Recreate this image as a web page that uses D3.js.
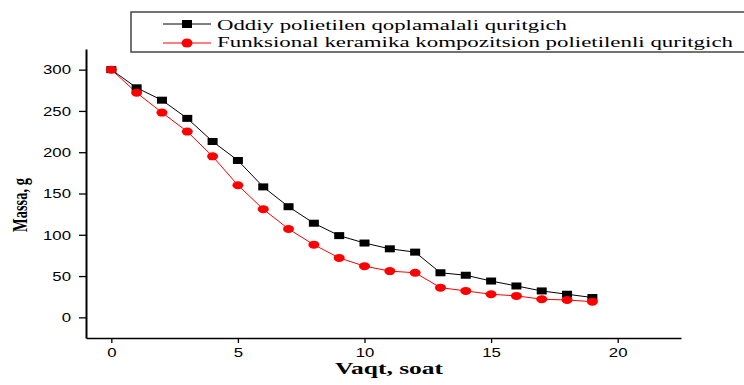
<!DOCTYPE html>
<html><head><meta charset="utf-8">
<script src="https://cdn.jsdelivr.net/npm/d3@7"></script>
<style>body{margin:0;background:#fff}svg{display:block}</style>
</head><body>
<script>
const hours = [0,1,2,3,4,5,6,7,8,9,10,11,12,13,14,15,16,17,18,19];
const plainValues = [300,278,263,241,213,190,158,134,114,99,90,83,79,54,51,44,38,32,28,24];
const ceramicValues = [300,272,248,225,195,160,131,107,88,72,62,56,54,36,32,28,26,22,21,19];
const seriesNames = ["Oddiy polietilen qoplamalali quritgich","Funksional keramika kompozitsion polietilenli quritgich"];
const xTicks = [0,5,10,15,20];
const xMinor = [2.5,7.5,12.5,17.5,22.5];
const yTicks = [0,50,100,150,200,250,300];
const yMinor = [-25,25,75,125,175,225,275,325];
const xTitle = "Vaqt, soat";
const yTitle = "Massa, g";

const W=744,H=385, SX=1.4;
const svg = d3.select("body").append("svg").attr("width",W).attr("height",H);
const x = d3.scaleLinear().domain([-1,22.5]).range([86,681]);
const y = d3.scaleLinear().domain([-25,325]).range([338,49]);

// axes
const gx = svg.append("g").attr("transform",`translate(0,${y(-25)})`);
gx.call(d3.axisBottom(x).tickValues(xMinor).tickSize(3).tickFormat(""));
gx.call(d3.axisBottom(x).tickValues(xTicks).tickSize(5).tickSizeOuter(0).tickFormat(d3.format("d")));
gx.selectAll("path.domain").attr("stroke","#000").attr("stroke-width",1.6);
gx.selectAll(".tick line").attr("stroke","#000").attr("stroke-width",1.3);
gx.selectAll(".tick text").attr("font-family","'Liberation Sans',Arial,sans-serif").attr("font-size",12)
  .attr("fill","#000").attr("dy",0).attr("y",0)
  .attr("transform","translate(0,18.5) scale(1.4,1)");

const gy = svg.append("g").attr("transform",`translate(${x(-1)},0)`);
gy.call(d3.axisLeft(y).tickValues(yMinor).tickSize(4).tickFormat(""));
gy.call(d3.axisLeft(y).tickValues(yTicks).tickSize(7).tickSizeOuter(0).tickFormat(d3.format("d")));
gy.selectAll("path.domain").attr("stroke","#000").attr("stroke-width",2);
gy.selectAll(".tick line").attr("stroke","#000").attr("stroke-width",1.3);
gy.selectAll(".tick text").attr("font-family","'Liberation Sans',Arial,sans-serif").attr("font-size",12)
  .attr("fill","#000").attr("x",0).attr("dy","0.36em")
  .attr("transform","translate(-15,0) scale(1.4,1)");
svg.selectAll(".domain").attr("fill","none");

// titles
svg.append("text").text(xTitle).attr("font-family","'Liberation Serif','Times New Roman',serif")
  .attr("font-weight","bold").attr("font-size",16.5).attr("text-anchor","middle")
  .attr("x",389).attr("y",374).attr("textLength",108).attr("lengthAdjust","spacingAndGlyphs");
svg.append("text").text(yTitle).attr("font-family","'Liberation Serif','Times New Roman',serif")
  .attr("font-weight","bold").attr("font-size",14.5).attr("text-anchor","middle")
  .attr("transform",`translate(27,205) scale(${SX},1) rotate(-90)`);

// series
const colors = ["#000000","#ff0000"];
const datasets = [plainValues, ceramicValues];
const line = d3.line().x((d,i)=>x(hours[i])).y(d=>y(d));
datasets.forEach((vals,k)=>{
  svg.append("path").datum(vals).attr("d",line).attr("fill","none").attr("stroke",colors[k]).attr("stroke-width",1);
});
svg.append("g").selectAll("rect").data(plainValues).join("rect")
  .attr("x",(d,i)=>x(hours[i])-5).attr("y",d=>y(d)-3.5).attr("width",10).attr("height",7).attr("fill","#000");
svg.append("g").selectAll("ellipse").data(ceramicValues).join("ellipse")
  .attr("cx",(d,i)=>x(hours[i])).attr("cy",d=>y(d)).attr("rx",5.5).attr("ry",4).attr("fill","#ff0000");

// legend
const lg = svg.append("g");
lg.append("rect").attr("x",131).attr("y",12).attr("width",700).attr("height",40)
  .attr("fill","#fff").attr("stroke","#444").attr("stroke-width",1.5);
const rowsY=[24,43], baseY=[30,47], lens=[350,516];
seriesNames.forEach((name,k)=>{
  lg.append("line").attr("x1",163).attr("x2",211).attr("y1",rowsY[k]).attr("y2",rowsY[k]).attr("stroke",colors[k]).attr("stroke-width",1);
  if(k===0) lg.append("rect").attr("x",182).attr("y",rowsY[k]-4).attr("width",10).attr("height",8).attr("fill","#000");
  else lg.append("ellipse").attr("cx",187).attr("cy",rowsY[k]).attr("rx",5.5).attr("ry",4.5).attr("fill","#ff0000");
  lg.append("text").text(name).attr("x",217).attr("y",baseY[k]).attr("font-family","'Liberation Serif','Times New Roman',serif")
    .attr("font-size",15.5).attr("textLength",lens[k]).attr("lengthAdjust","spacingAndGlyphs");
});
</script>
</body></html>
